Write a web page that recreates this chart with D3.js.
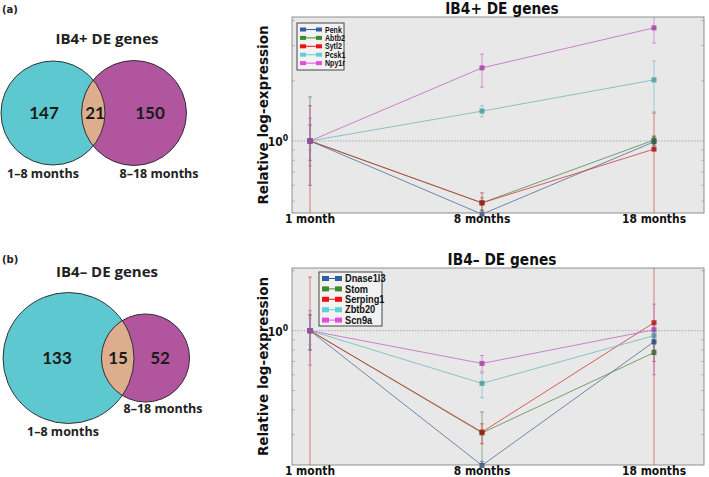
<!DOCTYPE html>
<html><head><meta charset="utf-8">
<script src="https://cdn.jsdelivr.net/npm/d3@7"></script>
<style>
html,body{margin:0;padding:0;background:#fff;}
svg{display:block;font-family:"DejaVu Sans",sans-serif;}
</style></head>
<body><svg id="c" width="709" height="477"></svg>
<script>
// ---------- DATA ----------
const timepoints = ["1 month", "8 months", "18 months"];

// Panel (a)
const genesA = ["Penk", "Abtb2", "Sytl2", "Pcsk1", "Npy1r"];
const valuesA = [
  [1, 0.43, 0.99],
  [1, 0.49, 1.01],
  [1, 0.49, 0.91],
  [1, 1.41, 2.02],
  [1, 2.32, 3.68]
];
const lowA = [
  [0.6, 0.3, 0.9],
  [0.8, 0.45, 0.95],
  [0.3, 0.3, 0.3],
  [0.9, 1.32, 1.4],
  [0.75, 1.86, 3.09]
];
const highA = [
  [1.66, 0.45, 1.05],
  [1.2, 0.52, 1.06],
  [1.5, 0.55, 1.38],
  [1.2, 1.5, 2.51],
  [1.3, 2.72, 4.6]
];

// Panel (b)
const genesB = ["Dnase1l3", "Stom", "Serping1", "Zbtb20", "Scn9a"];
const valuesB = [
  [1, 0.21, 0.88],
  [1, 0.306, 0.776],
  [1, 0.309, 1.096],
  [1, 0.543, 0.944],
  [1, 0.684, 1.01]
];
const lowB = [
  [0.8, 0.2, 0.8],
  [0.8, 0.2, 0.7],
  [0.2, 0.27, 0.2],
  [0.85, 0.46, 0.85],
  [0.67, 0.62, 0.6]
];
const highB = [
  [1.2, 0.22, 0.95],
  [1.2, 0.39, 0.85],
  [1.86, 0.34, 2.2],
  [1.15, 0.61, 1.05],
  [1.26, 0.75, 1.36]
];

const geneColors = ["#2f5ea3", "#3e8a2e", "#f01010", "#5fd0d6", "#e050e0"];

// Venn data: [only first, both, only second]
const vennA = [147, 21, 150];
const vennB = [133, 15, 52];
const vennSetLabels = ["1\u20138 months", "8\u201318 months"];
const vennColors = ["#5dc8cf", "#b1559f", "#dcae8e"];

// ---------- DRAW ----------
const svg = d3.select("#c");
const SX = 0.86; // horizontal compression of plot text

function txt(g, x, y, s, o) {
  const t = g.append("text")
    .attr("transform", `translate(${x},${y}) scale(${o.sx || 1},1)`)
    .attr("text-anchor", o.anchor || "start")
    .attr("font-family", o.family || "'DejaVu Sans',sans-serif")
    .attr("font-weight", "bold").attr("font-size", o.size).attr("fill", o.fill || "#111");
  if (s !== null) t.text(s);
  return t;
}

function venn(cfg) {
  const g = svg.append("g");
  const nA = cfg.counts[0] + cfg.counts[1];
  const nB = cfg.counts[2] + cfg.counts[1];
  const r = d3.scaleSqrt().domain([0, nA]).range([0, cfg.rA]);
  const rA = r(nA), rB = r(nB);
  const cA = cfg.cA, cB = [cfg.cA[0] + cfg.dist, cfg.cA[1]];
  const id = cfg.id;
  g.append("defs").append("clipPath").attr("id", id + "clipA")
    .append("circle").attr("cx", cA[0]).attr("cy", cA[1]).attr("r", rA);
  g.append("circle").attr("cx", cA[0]).attr("cy", cA[1]).attr("r", rA).attr("fill", vennColors[0]);
  g.append("circle").attr("cx", cB[0]).attr("cy", cB[1]).attr("r", rB).attr("fill", vennColors[1]);
  g.append("circle").attr("cx", cB[0]).attr("cy", cB[1]).attr("r", rB).attr("fill", vennColors[2])
    .attr("clip-path", `url(#${id}clipA)`);
  [[cA, rA], [cB, rB]].forEach(([c, rr]) => g.append("circle").attr("cx", c[0]).attr("cy", c[1]).attr("r", rr)
    .attr("fill", "none").attr("stroke", "#222").attr("stroke-width", 0.9));
  cfg.numX.forEach((x, i) => txt(g, x, cA[1] + 6, String(cfg.counts[i]),
    {anchor: "middle", family: "Lato,'Open Sans',sans-serif", size: 17, fill: "#1a1a1a"}));
  txt(g, cfg.title[0], cfg.title[1], cfg.titleText, {anchor: "middle", family: "'Open Sans',sans-serif", size: 15, fill: "#222"});
  txt(g, cfg.tag[0], cfg.tag[1], cfg.tagText, {size: 10, fill: "#222"});
  cfg.labels.forEach((p, i) => txt(g, p[0], p[1], vennSetLabels[i],
    {anchor: "middle", family: "'Open Sans',sans-serif", size: 12.5, fill: "#222"}));
}

venn({id: "va", counts: vennA, rA: 52, cA: [53, 113], dist: 81, numX: [44, 95, 150],
  title: [107, 44], titleText: "IB4+ DE genes", tag: [2, 13], tagText: "(a)",
  labels: [[43, 178], [159, 178]]});
venn({id: "vb", counts: vennB, rA: 65.5, cA: [68.5, 358], dist: 77, numX: [57, 118, 160],
  title: [107, 277], titleText: "IB4\u2013 DE genes", tag: [2, 263], tagText: "(b)",
  labels: [[63, 436], [163, 413]]});

function panel(cfg) {
  const g = svg.append("g");
  const x = d3.scalePoint().domain(timepoints).range([cfg.x0 + 18, cfg.x1 - 50]);
  const y = d3.scaleLog().domain(cfg.ydom).range([cfg.y1, cfg.y0]);
  const id = cfg.id;
  const lineCol = c => d3.interpolateRgb(c, "#777")(0.3);
  const markCol = c => d3.interpolateRgb(c, "#222")(0.3);
  g.append("defs").append("clipPath").attr("id", id + "clip")
    .append("rect").attr("x", cfg.x0).attr("y", cfg.y0).attr("width", cfg.x1 - cfg.x0).attr("height", cfg.y1 - cfg.y0);
  g.append("rect").attr("x", cfg.x0).attr("y", cfg.y0).attr("width", cfg.x1 - cfg.x0).attr("height", cfg.y1 - cfg.y0)
    .attr("fill", "#e8e8e8");
  const minor = y.ticks().filter(v => Math.abs(Math.log10(v) - Math.round(Math.log10(v))) > 1e-6);
  minor.forEach(v => {
    g.append("line").attr("x1", cfg.x0).attr("x2", cfg.x0 + 3).attr("y1", y(v)).attr("y2", y(v)).attr("stroke", "#999").attr("stroke-width", 0.6);
    g.append("line").attr("x1", cfg.x1).attr("x2", cfg.x1 - 3).attr("y1", y(v)).attr("y2", y(v)).attr("stroke", "#999").attr("stroke-width", 0.6);
  });
  g.append("line").attr("x1", cfg.x0).attr("x2", cfg.x1).attr("y1", y(1)).attr("y2", y(1))
    .attr("stroke", "#999").attr("stroke-width", 0.8).attr("stroke-dasharray", "1.5,1.5");
  const plot = g.append("g").attr("clip-path", `url(#${id}clip)`);
  cfg.genes.forEach((gn, i) => {
    timepoints.forEach((t, j) => {
      const lo = Math.max(cfg.low[i][j], cfg.ydom[0] * 0.5), hi = Math.min(cfg.high[i][j], cfg.ydom[1] * 2);
      plot.append("line").attr("x1", x(t)).attr("x2", x(t)).attr("y1", y(lo)).attr("y2", y(hi))
        .attr("stroke", lineCol(cfg.colors[i])).attr("stroke-opacity", 0.6).attr("stroke-width", 1);
      [lo, hi].forEach(v => plot.append("line").attr("x1", x(t) - 2).attr("x2", x(t) + 2).attr("y1", y(v)).attr("y2", y(v))
        .attr("stroke", lineCol(cfg.colors[i])).attr("stroke-opacity", 0.6).attr("stroke-width", 1));
    });
  });
  const line = d3.line().x((d, j) => x(timepoints[j])).y(d => y(d));
  cfg.genes.forEach((gn, i) => {
    plot.append("path").attr("d", line(cfg.values[i])).attr("fill", "none")
      .attr("stroke", lineCol(cfg.colors[i])).attr("stroke-opacity", 0.75).attr("stroke-width", 1);
  });
  cfg.genes.forEach((gn, i) => {
    cfg.values[i].forEach((v, j) => {
      g.append("rect").attr("x", x(timepoints[j]) - 2.5).attr("y", y(v) - 2.5).attr("width", 5).attr("height", 5)
        .attr("fill", markCol(cfg.colors[i])).attr("fill-opacity", 0.85);
    });
  });
  g.append("rect").attr("x", cfg.x0).attr("y", cfg.y0).attr("width", cfg.x1 - cfg.x0).attr("height", cfg.y1 - cfg.y0)
    .attr("fill", "none").attr("stroke", "#777").attr("stroke-width", 0.8);
  // y tick label 10^0
  const yl = txt(g, cfg.x0 - 4, y(1) + 5, null, {anchor: "end", size: 12.5, sx: SX});
  yl.append("tspan").text("10");
  yl.append("tspan").attr("dy", -5).attr("font-size", 9).text("0");
  timepoints.forEach(t => txt(g, x(t), cfg.y1 + 10, t, {anchor: "middle", size: 12.5, sx: SX}));
  g.append("text").attr("transform", `translate(${cfg.x0 - 24},${(cfg.y0 + cfg.y1) / 2}) rotate(-90)`)
    .attr("text-anchor", "middle").attr("font-weight", "bold").attr("font-size", 13.5).attr("fill", "#111")
    .text("Relative log-expression");
  txt(g, (cfg.x0 + cfg.x1) / 2 + 4, cfg.y0 - 3, cfg.title, {anchor: "middle", size: 16, sx: SX});
  // legend
  const L = cfg.legend;
  g.append("rect").attr("x", L.x).attr("y", L.y).attr("width", L.w).attr("height", L.h)
    .attr("fill", "#f2f2f2").attr("stroke", "#444").attr("stroke-width", 1);
  cfg.genes.forEach((gn, i) => {
    const yy = L.y + L.pad + i * L.step;
    g.append("line").attr("x1", L.x + 3).attr("x2", L.x + 3 + L.sw).attr("y1", yy).attr("y2", yy)
      .attr("stroke", cfg.colors[i]).attr("stroke-width", 1);
    [L.x + 3, L.x + 3 + L.sw - L.mk].forEach(px => g.append("rect").attr("x", px).attr("y", yy - L.mh / 2)
      .attr("width", L.mk).attr("height", L.mh).attr("fill", cfg.colors[i]));
    txt(g, L.x + 6 + L.sw, yy + L.fs * 0.36, gn, {family: "'Liberation Sans',Arial,sans-serif", size: L.fs, sx: L.sx});
  });
}

panel({id: "pa", genes: genesA, values: valuesA, low: lowA, high: highA, colors: geneColors,
  x0: 292, x1: 704, y0: 17, y1: 213, ydom: [0.436, 4.17], title: "IB4+ DE genes",
  legend: {x: 297, y: 23, w: 47, h: 47, pad: 6.5, step: 8.4, sw: 22, mk: 6, mh: 4, fs: 8.6, sx: 0.82}});
panel({id: "pb", genes: genesB, values: valuesB, low: lowB, high: highB, colors: geneColors,
  x0: 292, x1: 704, y0: 268, y1: 465, ydom: [0.211, 2.066], title: "IB4\u2013 DE genes",
  legend: {x: 319, y: 272, w: 63, h: 54, pad: 6.5, step: 10.4, sw: 20, mk: 7, mh: 5, fs: 10.5, sx: 0.88}});
</script></body></html>
